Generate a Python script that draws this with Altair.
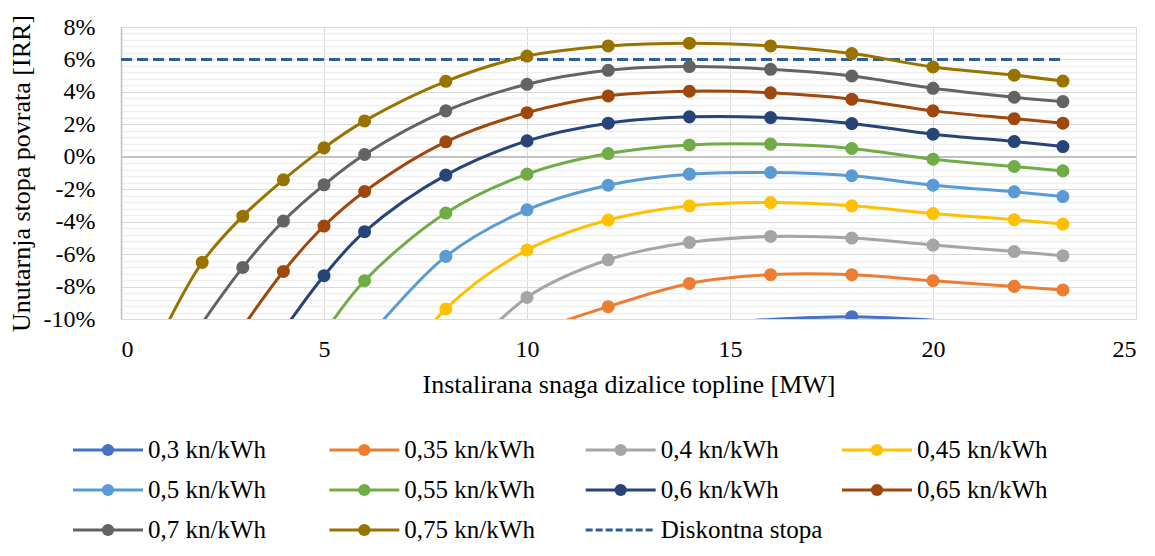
import altair as alt
import pandas as pd

# ---------------- data ----------------
x_mw = [1, 2, 3, 4, 5, 6, 8, 10, 12, 14, 16, 18, 20, 22, 23.2]

series_labels = ["0,3 kn/kWh", "0,35 kn/kWh", "0,4 kn/kWh", "0,45 kn/kWh",
                 "0,5 kn/kWh", "0,55 kn/kWh", "0,6 kn/kWh", "0,65 kn/kWh",
                 "0,7 kn/kWh", "0,75 kn/kWh"]
series_colors = ["#4472C4", "#ED7D31", "#A5A5A5", "#FFC000", "#5B9BD5",
                 "#70AD47", "#264478", "#9E480E", "#636363", "#997300"]

irr_030 = [None] * 9 + [-10.4, -10.03, -9.86, -10.07, -10.4, -10.6]
irr_035 = [None] * 7 + [-10.9, -9.24, -7.81, -7.27, -7.27, -7.64, -7.99, -8.21]
irr_040 = [None] * 6 + [-13.5, -8.67, -6.35, -5.28, -4.91, -5.01, -5.44, -5.84, -6.10]
irr_045 = [None] * 5 + [-16.0, -9.38, -5.75, -3.90, -3.02, -2.82, -3.02, -3.50, -3.88, -4.15]
irr_050 = [None] * 5 + [-11.4, -6.14, -3.27, -1.75, -1.07, -0.97, -1.17, -1.75, -2.16, -2.45]
irr_055 = [None] * 4 + [-10.9, -7.64, -3.47, -1.07, 0.20, 0.73, 0.78, 0.51, -0.15, -0.60, -0.87]
irr_060 = [None] * 3 + [-10.7, -7.33, -4.62, -1.13, 0.98, 2.07, 2.46, 2.42, 2.05, 1.39, 0.94, 0.63]
irr_065 = [None] * 2 + [-10.5, -7.07, -4.27, -2.14, 0.92, 2.72, 3.75, 4.04, 3.94, 3.55, 2.83, 2.35, 2.07]
irr_070 = [None] + [-10.25, -6.82, -3.96, -1.73, 0.14, 2.83, 4.47, 5.33, 5.56, 5.39, 4.98, 4.22, 3.67, 3.40]
irr_075 = [-11.0, -6.51, -3.66, -1.42, 0.55, 2.21, 4.65, 6.21, 6.83, 7.00, 6.83, 6.36, 5.54, 5.03, 4.67]

all_series = [irr_030, irr_035, irr_040, irr_045, irr_050,
              irr_055, irr_060, irr_065, irr_070, irr_075]

disc_label = "Diskontna stopa"
disc_x = [0, 23.2]
disc_y = [6, 6]
disc_color = "#2A6099"

y_major = [-10, -8, -6, -4, -2, 0, 2, 4, 6, 8]
y_minor = [round(-10 + 0.4 * i, 1) for i in range(46) if i % 5]
x_ticks = [0, 5, 10, 15, 20, 25]

# ---------------- tables ----------------
rows = []
for lab, vals in zip(series_labels, all_series):
    for xv, yv in zip(x_mw, vals):
        if yv is not None:
            rows.append({"x": xv, "irr": yv, "series": lab})
df = pd.DataFrame(rows)
disc_df = pd.DataFrame({"x": disc_x, "irr": disc_y})

leg_df = pd.DataFrame({
    "series": series_labels,
    "col": [i % 4 for i in range(len(series_labels))],
    "row": [i // 4 for i in range(len(series_labels))],
})
leg_disc = pd.DataFrame({"series": [disc_label], "col": [2], "row": [2]})

FONT = "Liberation Serif, Times New Roman, Times, DejaVu Serif, serif"

xscale = alt.Scale(domain=[0, 25], nice=False)
yscale = alt.Scale(domain=[-10, 8], nice=False)
cscale = alt.Scale(domain=series_labels, range=series_colors)

x_axis = alt.Axis(values=x_ticks, grid=True, gridColor="#d9d9d9", ticks=False,
                  domain=False, labelFont=FONT, labelFontSize=24, labelColor="black",
                  labelPadding=18, title="Instalirana snaga dizalice topline [MW]",
                  titleFont=FONT, titleFontSize=26, titleFontWeight="normal",
                  titleColor="black", titlePadding=10)
y_axis = alt.Axis(values=y_major, grid=True, gridColor="#d9d9d9", ticks=False,
                  domain=True, domainColor="#bfbfbf", domainWidth=1.5,
                  labelExpr="datum.value + '%'", labelFont=FONT, labelFontSize=24,
                  labelColor="black", labelPadding=26,
                  title="Unutarnja stopa povrata [IRR]", titleFont=FONT,
                  titleFontSize=26, titleFontWeight="normal", titleColor="black",
                  titlePadding=9, orient="left")
y_minor_axis = alt.Axis(values=y_minor, grid=True, gridColor="#efefef", gridWidth=1.5,
                        ticks=False, domain=False, labels=False, title=None,
                        orient="right")

minor_layer = alt.Chart(disc_df).mark_line(opacity=0).encode(
    x=alt.X("x:Q", scale=xscale, axis=x_axis),
    y=alt.Y("irr:Q", scale=yscale, axis=y_minor_axis),
)

zero_rule = alt.Chart(disc_df).mark_rule(color="#bfbfbf", strokeWidth=1.5).encode(
    y=alt.YDatum(0, axis=None, scale=yscale)
)

dashed = alt.Chart(disc_df).mark_line(
    color=disc_color, strokeWidth=3, strokeDash=[11, 5]
).encode(
    x=alt.X("x:Q", scale=xscale, axis=x_axis),
    y=alt.Y("irr:Q", scale=yscale, axis=None),
)

lines = alt.Chart(df).mark_line(interpolate="catmull-rom", strokeWidth=3, clip=True).encode(
    x=alt.X("x:Q", scale=xscale, axis=x_axis),
    y=alt.Y("irr:Q", scale=yscale, axis=y_axis),
    color=alt.Color("series:N", scale=cscale, legend=None),
    order=alt.Order("x:Q"),
)

points = alt.Chart(df).transform_filter(alt.datum.irr >= -10).mark_circle(
    size=170, opacity=1, clip=True
).encode(
    x=alt.X("x:Q", scale=xscale, axis=x_axis),
    y=alt.Y("irr:Q", scale=yscale, axis=None),
    color=alt.Color("series:N", scale=cscale, legend=None),
)

main = alt.layer(minor_layer, zero_rule, dashed, lines, points).resolve_axis(y="independent")

# ---------------- legend (drawn from the label lists) ----------------
lx = alt.Scale(domain=[0, 3], range=[-13, 756])
ly = alt.Scale(domain=[0, 2], range=[423, 503])

leg_rule = alt.Chart(leg_df).mark_rule(strokeWidth=3, xOffset=-35, x2Offset=35).encode(
    x=alt.X("col:Q", scale=lx, axis=None), x2="col:Q",
    y=alt.Y("row:Q", scale=ly, axis=None),
    color=alt.Color("series:N", scale=cscale, legend=None),
)
leg_dot = alt.Chart(leg_df).mark_circle(size=150, opacity=1).encode(
    x=alt.X("col:Q", scale=lx, axis=None),
    y=alt.Y("row:Q", scale=ly, axis=None),
    color=alt.Color("series:N", scale=cscale, legend=None),
)
leg_text = alt.Chart(leg_df).mark_text(
    align="left", baseline="middle", dx=40, font=FONT, fontSize=25, color="black"
).encode(
    x=alt.X("col:Q", scale=lx, axis=None),
    y=alt.Y("row:Q", scale=ly, axis=None),
    text="series:N",
)
leg_disc_rule = alt.Chart(leg_disc).mark_rule(
    strokeWidth=3, xOffset=-35, x2Offset=35, color=disc_color, strokeDash=[7, 3]
).encode(
    x=alt.X("col:Q", scale=lx, axis=None), x2="col:Q",
    y=alt.Y("row:Q", scale=ly, axis=None),
)
leg_disc_text = alt.Chart(leg_disc).mark_text(
    align="left", baseline="middle", dx=40, font=FONT, fontSize=25, color="black"
).encode(
    x=alt.X("col:Q", scale=lx, axis=None),
    y=alt.Y("row:Q", scale=ly, axis=None),
    text="series:N",
)
legend = alt.layer(leg_rule, leg_dot, leg_text, leg_disc_rule, leg_disc_text)

chart = alt.layer(main, legend).resolve_scale(x="independent", y="independent").properties(
    width=1015, height=292,
    padding={"left": 0, "top": 6, "right": 0, "bottom": 0},
    background="white",
).configure_view(stroke="#d9d9d9", strokeWidth=1)

chart.save("out.html", embed_options={"renderer": "svg", "actions": False})
